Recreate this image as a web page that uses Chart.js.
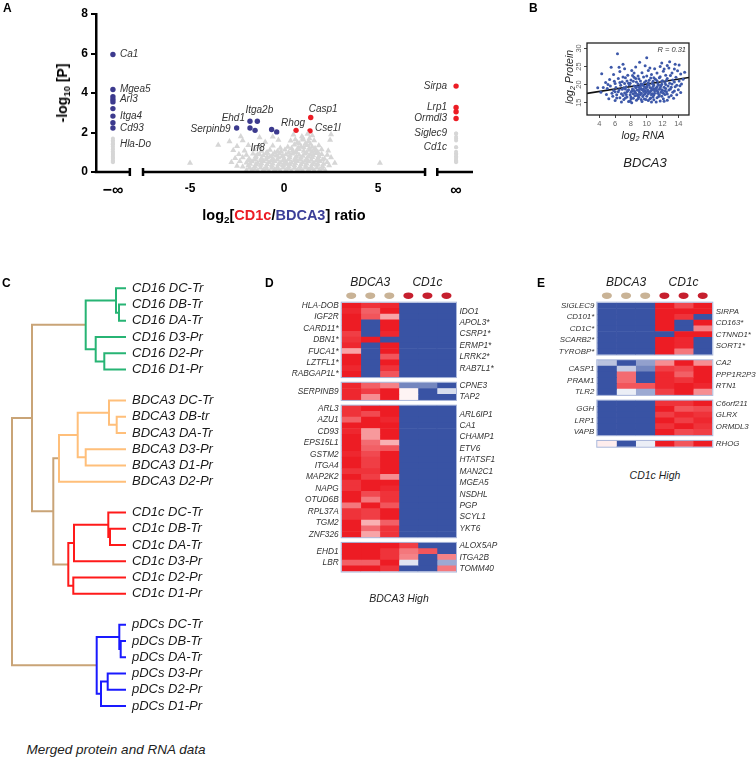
<!DOCTYPE html>
<html>
<head>
<meta charset="utf-8">
<title>DC subsets: proteome vs transcriptome</title>
<script src="https://cdn.jsdelivr.net/npm/chart.js@4.4.1/dist/chart.umd.min.js"></script>
<style>
  body { margin: 0; background: #fff; }
  #fig { position: relative; width: 756px; height: 758px; overflow: hidden;
         font-family: "Liberation Sans", Arial, Helvetica, sans-serif; color: #222; }
  canvas { position: absolute; }
  .t { position: absolute; white-space: nowrap; line-height: 1; transform: translate(-50%, -50%); }
  .panel { position: absolute; font-weight: bold; font-size: 12px; color: #000; line-height: 1; }
  sub { font-size: 68%; vertical-align: -0.3em; line-height: 0; }
</style>
</head>
<body>
<div id="fig">
  <canvas id="cA" width="480" height="230" style="left:0;top:0"></canvas>
  <canvas id="cB" width="160" height="140" style="left:540px;top:30px"></canvas>
  <canvas id="cC" width="270" height="450" style="left:0;top:270px"></canvas>
  <canvas id="cD" width="280" height="305" style="left:240px;top:275px"></canvas>
  <canvas id="cE" width="236" height="180" style="left:520px;top:275px"></canvas>

  <div class="panel" style="left:3px;top:2px">A</div>
  <div class="panel" style="left:529px;top:2px">B</div>
  <div class="panel" style="left:2px;top:277px">C</div>
  <div class="panel" style="left:265px;top:277px">D</div>
  <div class="panel" style="left:537px;top:277px">E</div>

  <div class="t" style="left:62px;top:93px;transform:translate(-50%,-50%) rotate(-90deg);font-weight:bold;font-size:14px;color:#000">-log<sub>10</sub> [P]</div>
  <div class="t" style="left:284px;top:215px;font-weight:bold;font-size:14.5px;color:#000">log<sub>2</sub>[<span style="color:#ec1c24">CD1c</span>/<span style="color:#3b3f98">BDCA3</span>] ratio</div>

  <div class="t" style="left:569px;top:77px;transform:translate(-50%,-50%) rotate(-90deg);font-style:italic;font-size:10.5px">log<sub>2</sub> Protein</div>
  <div class="t" style="left:643px;top:135px;font-style:italic;font-size:10.5px">log<sub>2</sub> RNA</div>
  <div class="t" style="left:645px;top:162px;font-style:italic;font-size:13px">BDCA3</div>

  <div class="t" style="left:116px;top:750px;font-style:italic;font-size:13.5px">Merged protein and RNA data</div>
  <div class="t" style="left:399px;top:598px;font-style:italic;font-size:10.5px">BDCA3 High</div>
  <div class="t" style="left:655px;top:475px;font-style:italic;font-size:10.5px">CD1c High</div>
</div>

<script>
// ---------- A: volcano (ratio of -Infinity / Infinity = only seen in one subset)
const blueNegInf = [['Ca1', 5.95], ['Mgea5', 4.18], ['', 3.81], ['Arl3', 3.67], ['', 3.55],
  ['', 3.21], ['Itga4', 2.83], ['', 2.49], ['Cd93', 2.23]];
const blueRatio = [['Serpinb9', -2.52, 2.23], ['Ehd1', -1.81, 2.57], ['Itga2b', -1.42, 2.57],
  ['', -1.81, 2.23], ['', -1.54, 2.11], ['', -0.66, 2.15], ['', -0.39, 2.03]];
const redRatio = [['Rhog', 0.64, 2.11], ['Casp1', 1.42, 2.76], ['Cse1l', 1.38, 2.08]];
const redPosInf = [['Sirpa', 4.35], ['Lrp1', 3.27], ['', 3.05], ['Ormdl3', 2.71]];
const grayNegInf = [1.7, 1.61, 1.55, 1.46, 1.4, 1.31, 1.22, 1.15, 1.05, 0.98, 0.91, 0.86, 0.79, 0.72, 0.67, 0.6, 0.55, 0.49];
const grayPosInf = [1.95, 1.78, 1.7, 1.6, 1.25, 1.02, 0.95, 0.88, 0.8, 0.74, 0.66, 0.6, 0.54, 0.49];
const grayNamed = [['Hla-Do', -Infinity, 1.4], ['Siglec9', Infinity, 1.95], ['Cd1c', Infinity, 1.25]];
const grayCloud = [
  [-2.0,0.08],[-1.7,0.12],[-1.4,0.05],[-1.1,0.1],[-0.8,0.04],[-0.5,0.11],[-0.2,0.06],[0.1,0.1],[0.4,0.03],[0.7,0.09],
  [1.0,0.05],[1.3,0.12],[1.6,0.07],[1.9,0.1],[2.2,0.06],[-2.5,0.3],[-2.2,0.26],[-1.9,0.33],[-1.55,0.28],[-1.25,0.35],
  [-0.95,0.27],[-0.65,0.32],[-0.35,0.25],[-0.05,0.34],[0.25,0.28],[0.55,0.33],[0.85,0.26],[1.15,0.31],[1.45,0.27],[1.75,0.35],
  [2.05,0.29],[2.4,0.33],[-5.0,0.45],[5.1,0.45],[-2.8,0.5],[-2.35,0.55],[-2.0,0.47],[-1.7,0.53],[-1.4,0.46],[-1.1,0.55],
  [-0.8,0.49],[-0.5,0.54],[-0.2,0.45],[0.1,0.52],[0.4,0.47],[0.7,0.55],[1.0,0.48],[1.3,0.53],[1.6,0.46],[1.9,0.54],
  [2.3,0.49],[2.7,0.45],[-2.6,0.7],[-2.2,0.74],[-1.85,0.66],[-1.5,0.72],[-1.2,0.68],[-0.9,0.75],[-0.6,0.67],[-0.3,0.73],
  [0.0,0.66],[0.3,0.74],[0.6,0.69],[0.9,0.72],[1.2,0.66],[1.5,0.75],[1.8,0.7],[2.15,0.67],[2.5,0.73],[-2.4,0.9],
  [-2.0,0.86],[-1.65,0.93],[-1.3,0.88],[-0.95,0.95],[-0.6,0.87],[-0.25,0.94],[0.1,0.89],[0.45,0.93],[0.8,0.86],[1.1,0.92],
  [1.4,0.88],[1.7,0.95],[2.0,0.9],[2.3,0.86],[-2.7,1.1],[-2.1,1.08],[-1.6,1.14],[-1.2,1.06],[-0.75,1.12],[-0.35,1.05],
  [0.05,1.13],[0.45,1.07],[0.8,1.15],[1.05,1.06],[1.35,1.11],[1.65,1.08],[2.0,1.14],[2.35,1.07],[-3.5,1.37],[-2.5,1.3],
  [-1.9,1.35],[-1.35,1.28],[-0.6,1.33],[0.2,1.27],[0.55,1.38],[0.9,1.3],[1.2,1.36],[1.5,1.27],[1.85,1.34],[-2.9,1.55],
  [-2.2,1.6],[-1.0,1.52],[-0.3,1.62],[0.35,1.58],[0.7,1.5],[1.0,1.63],[1.3,1.55],[1.6,1.6],[2.45,1.62],[-2.3,1.8],
  [-0.6,1.78],[0.5,1.88],[0.95,1.8],[1.25,1.92],[1.5,1.85],[2.5,1.9],[-1.3,1.75],[0.15,0.42],[-0.1,0.8],[0.6,1.0],
  [-1.85,0.2],[-1.55,0.15],[-1.25,0.22],[-0.95,0.17],[-0.65,0.2],[-0.35,0.16],[-0.05,0.21],[0.25,0.17],[0.55,0.2],[0.85,0.15],
  [1.15,0.21],[1.45,0.18],[1.75,0.22],[2.05,0.17],[-1.8,0.41],[-1.5,0.38],[-1.2,0.43],[-0.9,0.39],[-0.6,0.42],[-0.3,0.38],
  [0.0,0.41],[0.3,0.39],[0.6,0.43],[0.9,0.38],[1.2,0.42],[1.5,0.39],[1.8,0.41],[2.1,0.4],[-1.9,0.6],[-1.55,0.62],
  [-1.25,0.58],[-0.95,0.63],[-0.65,0.59],[-0.35,0.62],[-0.05,0.58],[0.25,0.63],[0.55,0.6],[0.85,0.62],[1.15,0.58],[1.45,0.61],
  [1.75,0.59],[2.05,0.62],[-1.5,0.8],[-1.1,0.83],[-0.75,0.78],[-0.4,0.82],[-0.05,0.79],[0.3,0.83],[0.65,0.78],[1.0,0.81],
  [1.3,0.79],[1.55,0.84],[1.85,0.8],[-0.9,1.0],[-0.5,0.98],[-0.15,1.02],[0.25,0.99],[0.65,1.02],[1.2,0.98],[1.5,1.01],
  [1.8,1.0],[-0.2,1.22],[0.4,1.2],[0.75,1.23],[1.05,1.24],[1.35,1.22],[1.65,1.2],[0.8,1.45],[1.15,1.45],[1.4,1.42],
  [1.0,1.72],[1.35,1.7],[0.6,1.65]
];
const grayCloudNamed = [['Irf8', -1.4, 0.9]];

// ---------- B: BDCA3 protein vs RNA
const bdca3Pts = [
  [6.3,28.5],[10.0,27.4],[12.9,26.3],[4.3,23.0],[5.5,24.8],[5.8,22.8],[6.6,23.6],[7.2,24.4],[7.6,22.6],[8.1,23.9],
  [8.6,24.9],[8.9,22.4],[9.4,23.3],[9.8,25.2],[10.2,23.9],[10.6,22.8],[11.0,24.4],[11.3,23.2],[11.7,25.0],[12.1,23.7],
  [12.4,22.6],[12.8,24.6],[13.2,23.2],[13.6,25.6],[13.9,23.8],[14.3,22.9],[14.8,23.4],[11.9,26.0],[9.1,26.2],[7.0,25.6],
  [12.6,25.3],[4.8,20.6],[5.3,21.4],[6.0,20.3],[6.4,21.7],[6.9,20.8],[7.3,21.9],[7.7,20.4],[8.0,21.3],[8.4,22.0],
  [8.7,20.7],[9.0,21.6],[9.3,20.2],[9.6,22.1],[9.9,21.0],[10.2,20.5],[10.5,21.8],[10.8,20.9],[11.1,21.5],[11.4,20.3],
  [11.7,22.2],[12.0,21.1],[12.3,20.6],[12.6,21.7],[12.9,20.4],[13.3,21.3],[13.7,22.0],[14.1,21.0],[14.4,20.2],[13.0,22.5],
  [11.6,21.9],[10.0,22.4],[8.2,22.5],[7.0,22.1],[5.0,18.9],[5.4,19.6],[5.8,18.4],[6.1,19.2],[6.4,18.0],[6.7,19.8],
  [6.9,18.7],[7.2,17.7],[7.4,19.4],[7.6,18.3],[7.8,19.9],[8.0,17.9],[8.2,18.8],[8.4,19.6],[8.6,17.6],[8.8,18.5],
  [9.0,19.3],[9.1,17.9],[9.3,18.9],[9.5,19.8],[9.6,18.1],[9.8,17.5],[9.9,19.1],[10.1,18.6],[10.3,19.9],[10.4,17.8],
  [10.6,18.9],[10.8,19.5],[11.0,18.2],[11.2,19.0],[11.4,17.6],[11.6,18.7],[11.8,19.7],[12.0,18.4],[12.2,19.3],[12.5,18.0],
  [12.7,19.6],[13.0,18.8],[13.3,17.9],[13.6,19.4],[14.0,18.6],[4.5,19.2],[3.8,19.1],[5.6,17.6],[6.2,17.2],[7.0,17.0],
  [8.5,16.9],[9.2,17.2],[10.0,16.8],[10.9,17.1],[11.5,16.7],[12.3,17.3],[13.1,17.0],[7.9,20.4],[8.9,20.2],[10.7,20.3],
  [11.9,20.1],[5.2,16.1],[6.0,15.6],[6.6,16.4],[7.1,15.9],[7.5,16.6],[7.9,15.4],[8.3,16.2],[8.7,15.7],[9.0,16.5],
  [9.4,15.3],[9.7,16.0],[10.2,15.6],[10.5,16.3],[10.9,15.8],[11.3,16.4],[11.7,15.5],[12.1,16.1],[12.6,15.7],[13.4,16.2],
  [6.8,15.2],[8.1,15.0],[4.9,17.3],[5.7,16.8],[13.8,17.2],[14.3,17.8],[4.2,17.9],[8.1,18.2],[8.5,18.0],[9.0,18.4],
  [9.4,18.6],[9.7,19.5],[10.2,17.4],[10.5,18.3],[10.9,18.7],[11.3,18.4],[9.6,17.2],[8.9,17.3],[10.7,17.5],[11.8,17.9],
  [7.5,18.0],[7.3,18.8],[12.4,18.9],[9.2,19.6],[10.0,19.4],[11.5,19.9],[8.6,19.1],[9.5,16.7],[10.4,16.1],[8.0,16.6],
  [6.5,18.6],[6.8,17.5],[7.1,19.1],[7.4,17.3],[7.7,18.6],[7.9,17.2],[8.3,17.5],[8.4,18.4],[8.7,19.5],[8.8,17.0],
  [9.1,18.7],[9.3,17.6],[9.4,20.1],[9.6,18.8],[9.8,18.4],[9.9,17.9],[10.1,19.8],[10.2,18.1],[10.4,19.2],[10.6,17.2],
  [10.7,18.5],[10.9,19.9],[11.0,17.6],[11.1,18.9],[11.3,19.4],[11.4,18.0],[11.6,17.2],[11.7,19.2],[11.9,18.6],[12.1,17.6],
  [12.3,18.2],[12.4,20.0],[12.6,17.4],[12.8,18.5],[13.1,19.3],[13.2,20.2],[13.5,18.2],[13.8,19.8],[6.0,18.0],[5.9,20.9],
  [6.6,20.6],[7.2,20.3],[7.5,21.0],[8.3,20.9],[8.6,21.7],[9.2,21.0],[9.7,20.6],[10.3,21.2],[10.9,21.9],[11.3,21.1],
  [11.9,20.9],[12.5,21.2],[13.5,20.7],[14.2,19.7],[14.6,21.5],[5.1,20.0],[6.2,16.3],[7.3,16.3],[8.0,16.0],[8.9,16.1],
  [9.9,15.9],[10.8,16.6],[11.9,16.8],[12.8,16.6],[9.3,15.9],[10.6,15.2],[7.7,15.3],[11.2,15.2],[12.2,15.4],[6.5,24.8],
  [8.4,23.2],[10.4,24.6],[12.2,24.3],[13.5,24.3],[14.1,25.4]
];
const fitIntercept = 16.75, fitSlope = 0.34, fitR = 0.31;

// ---------- C: hierarchical clustering
const leafNames = ['CD16 DC-Tr', 'CD16 DB-Tr', 'CD16 DA-Tr', 'CD16 D3-Pr', 'CD16 D2-Pr', 'CD16 D1-Pr',
  'BDCA3 DC-Tr', 'BDCA3 DB-tr', 'BDCA3 DA-Tr', 'BDCA3 D3-Pr', 'BDCA3 D1-Pr', 'BDCA3 D2-Pr',
  'CD1c DC-Tr', 'CD1c DB-Tr', 'CD1c DA-Tr', 'CD1c D3-Pr', 'CD1c D2-Pr', 'CD1c D1-Pr',
  'pDCs DC-Tr', 'pDCs DB-Tr', 'pDCs DA-Tr', 'pDCs D3-Pr', 'pDCs D2-Pr', 'pDCs D1-Pr'];
const leafGroup = [0,0,0,0,0,0, 1,1,1,1,1,1, 2,2,2,2,2,2, 3,3,3,3,3,3];
// merges: [a, b, height, cluster]; negative = leaf, positive = earlier merge (R hclust style)
const merges = [
  [-2, -3, 7, 0], [-1, 1, 10, 0], [-5, -6, 21.7, 0], [-4, 3, 30.3, 0], [2, 4, 40.3, 0],
  [-8, -9, 9.3, 1], [-7, 6, 17, 1], [-10, -11, 40.3, 1], [7, 8, 48.3, 1], [9, -12, 67, 1],
  [-14, -15, 16, 2], [-13, 11, 17.7, 2], [12, -16, 52, 2], [-17, -18, 52.7, 2], [13, 14, 57.7, 2],
  [-20, -21, 5.3, 3], [-19, 16, 6.7, 3], [-22, -23, 18.3, 3], [18, -24, 25, 3], [17, 19, 29.3, 3],
  [10, 15, 72.7, 4], [5, 21, 94, 4], [22, 20, 114, 4]
];
const clusterColors = ['#27b474', '#ffbf7a', '#ff1a1a', '#1a1aff', '#c9a477'];

// ---------- D / E heatmaps (scaled abundance, -1 blue .. 1 red)
const hmGroups = ['BDCA3', 'BDCA3', 'BDCA3', 'CD1c', 'CD1c', 'CD1c'];
const dGenes1 = ['HLA-DOB', 'IDO1', 'IGF2R', 'APOL3*', 'CARD11*', 'CSRP1*', 'DBN1*', 'ERMP1*', 'FUCA1*', 'LRRK2*', 'LZTFL1*', 'RAB7L1*', 'RABGAP1L*'];
const dVals1 = [[1,.9,.95,-1,-1,-1],[.95,.7,1,-1,-1,-1],[1,.75,.4,-1,-1,-1],[1,-1,1,-1,-1,-1],[1,-1,1,-1,-1,-1],
  [.85,-1,.95,-1,-1,-1],[.9,1,-1,-1,-1,-1],[.95,-1,1,-1,-1,-1],[.4,-1,1,-1,-1,-1],[1,-1,.75,-1,-1,-1],
  [1,-1,1,-1,-1,-1],[.95,-1,.9,-1,-1,-1],[1,-1,.75,-1,-1,-1]];
const dGenes2 = ['CPNE3', 'SERPINB9', 'TAP2'];
const dVals2 = [[.95,.7,.55,-.7,-.7,-1],[.95,.85,1,.05,-1,-.2],[.95,.5,1,.05,-1,-1]];
const dGenes3 = ['ARL3', 'ARL6IP1', 'AZU1', 'CA1', 'CD93', 'CHAMP1', 'EPS15L1', 'ETV6', 'GSTM2', 'HTATSF1', 'ITGA4', 'MAN2C1',
  'MAP2K2', 'MGEA5', 'NAPG', 'NSDHL', 'OTUD6B', 'PGP', 'RPL37A', 'SCYL1', 'TGM2', 'YKT6', 'ZNF326'];
const dVals3 = [[.9,1,1,-1,-1,-1],[.9,.8,1,-1,-1,-1],[.7,1,.95,-1,-1,-1],[1,1,1,-1,-1,-1],[.95,.45,1,-1,-1,-1],
  [1,.45,1,-1,-1,-1],[1,.65,.35,-1,-1,-1],[1,.7,.75,-1,-1,-1],[.95,.8,1,-1,-1,-1],[1,.85,1,-1,-1,-1],
  [1,.85,1,-1,-1,-1],[.9,.9,1,-1,-1,-1],[1,.85,.5,-1,-1,-1],[.9,1,1,-1,-1,-1],[.9,1,.95,-1,-1,-1],
  [1,.8,.9,-1,-1,-1],[1,.6,.9,-1,-1,-1],[.6,1,.75,-1,-1,-1],[.9,.85,1,-1,-1,-1],[.9,.85,1,-1,-1,-1],
  [1,.35,.7,-1,-1,-1],[1,.65,.9,-1,-1,-1],[1,.4,.9,-1,-1,-1]];
const dGenes4 = ['ALOX5AP', 'EHD1', 'ITGA2B', 'LBR', 'TOMM40'];
const dVals4 = [[1,1,1,.85,-1,-1],[1,1,.9,.6,.75,-1],[1,1,.9,.55,-1,.55],[.7,.7,1,-.15,-1,-.5],[1,1,.9,-1,-1,.6]];

const eGenes1 = ['SIGLEC9', 'SIRPA', 'CD101*', 'CD163*', 'CD1C*', 'CTNND1*', 'SCARB2*', 'SORT1*', 'TYROBP*'];
const eVals1 = [[-1,-1,-1,1,.8,1],[-1,-1,-1,1,1,1],[-1,-1,-1,1,.9,-1],[-1,-1,-1,1,-1,1],[-1,-1,-1,1,-1,.55],
  [-1,-1,-1,-1,1,1],[-1,-1,-1,1,.95,-1],[-1,-1,-1,1,.95,-1],[-1,-1,-1,1,.6,-1]];
const eGenes2 = ['CA2', 'CASP1', 'PPP1R2P3', 'PRAM1', 'RTN1', 'TLR2'];
const eVals2 = [[-.35,-1,-.55,.5,1,.5],[-1,-.3,-.7,.85,.8,1],[-1,.65,-1,.95,.7,1],[-1,.65,-1,.95,.9,1],
  [-1,.75,.75,.95,1,.95],[-1,-.1,-.5,.85,1,.5]];
const eGenes3 = ['C6orf211', 'GGH', 'GLRX', 'LRP1', 'ORMDL3', 'VAPB'];
const eVals3 = [[-1,-1,-1,.9,.9,1],[-1,-1,-1,1,.75,.8],[-1,-1,-1,.85,.95,.9],[-1,-1,-1,1,.85,.95],
  [-1,-1,-1,.9,1,.9],[-1,-1,-1,1,.8,.85]];
const eGenes4 = ['RHOG'];
const eVals4 = [[.08,-1,-.1,1,.75,1]];

Chart.defaults.font.family = '"Liberation Sans", Arial, Helvetica, sans-serif';
Chart.defaults.animation = false;
Chart.defaults.plugins.legend.display = false;
Chart.defaults.plugins.tooltip.enabled = false;

// ================= A
const NEG_INF = -9.1, POS_INF = 9.15;
const infX = v => v === -Infinity ? NEG_INF : v === Infinity ? POS_INF : v;
const LBL = {
  Ca1: [7, 0, 'left'], Mgea5: [7, 0, 'left'], Arl3: [7, 0, 'left'], Itga4: [7, 0, 'left'], Cd93: [7, 0, 'left'],
  'Hla-Do': [7, 0, 'left'], Serpinb9: [-6, 1, 'right'], Ehd1: [-5, -3, 'right'], Itga2b: [2, -11, 'center'],
  Irf8: [0, -6, 'center'], Rhog: [-3, -7, 'center'], Casp1: [-2, -8, 'left'], Cse1l: [5, -3, 'left'],
  Sirpa: [-9, 0, 'right'], Lrp1: [-9, 0, 'right'], Ormdl3: [-9, 0, 'right'], Siglec9: [-9, 0, 'right'], Cd1c: [-9, 0, 'right']
};

const brokenAxis = {
  id: 'brokenAxis',
  afterDraw(chart) {
    const { ctx } = chart, xs = chart.scales.x;
    const y0 = chart.scales.y.getPixelForValue(0);
    ctx.save();
    ctx.strokeStyle = '#000';
    ctx.lineWidth = 2.5;
    [[-10, -8.2], [-7.5, 7.5], [8.15, 10.05]].forEach(([a, b], i) => {
      ctx.beginPath();
      ctx.moveTo(xs.getPixelForValue(a) - (i === 0 ? 1.25 : 0), y0);
      ctx.lineTo(xs.getPixelForValue(b), y0);
      ctx.stroke();
    });
    [-8.2, -7.5, 7.5, 8.15].forEach(v => {
      const px = xs.getPixelForValue(v);
      ctx.beginPath();
      ctx.moveTo(px, y0 - 4);
      ctx.lineTo(px, y0 + 4);
      ctx.stroke();
    });
    ctx.restore();
  }
};

const pointLabels = {
  id: 'pointLabels',
  afterDatasetsDraw(chart) {
    const { ctx } = chart;
    ctx.save();
    ctx.font = 'italic 10px "Liberation Sans", Arial, sans-serif';
    ctx.fillStyle = '#333';
    ctx.textBaseline = 'middle';
    chart.data.datasets.forEach((ds, di) => {
      const meta = chart.getDatasetMeta(di);
      ds.data.forEach((p, i) => {
        if (!p.g || !LBL[p.g]) return;
        const [dx, dy, al] = LBL[p.g];
        const el = meta.data[i];
        ctx.textAlign = al;
        ctx.fillText(p.g, el.x + dx, el.y + dy);
      });
    });
    ctx.restore();
  }
};

new Chart(document.getElementById('cA'), {
  type: 'scatter',
  data: {
    datasets: [
      { data: grayCloud.map(([x, y]) => ({ x, y })).concat(grayCloudNamed.map(([g, x, y]) => ({ x, y, g }))),
        pointStyle: 'triangle', pointRadius: 3.5, backgroundColor: '#d6d6d6', borderWidth: 0 },
      { data: grayNegInf.map(y => ({ x: NEG_INF, y })).concat(grayPosInf.map(y => ({ x: POS_INF, y })),
          grayNamed.map(([g, x, y]) => ({ x: infX(x), y, g }))),
        pointRadius: 2, backgroundColor: '#d6d6d6', borderWidth: 0 },
      { data: blueNegInf.map(([g, y]) => ({ x: NEG_INF, y, g })).concat(blueRatio.map(([g, x, y]) => ({ x, y, g }))),
        pointRadius: 2.7, backgroundColor: '#3c3a8e', borderWidth: 0 },
      { data: redPosInf.map(([g, y]) => ({ x: POS_INF, y, g })).concat(redRatio.map(([g, x, y]) => ({ x, y, g }))),
        pointRadius: 2.7, backgroundColor: '#ec1c24', borderWidth: 0 }
    ]
  },
  options: {
    responsive: false,
    layout: { padding: { top: 14, right: 7, left: 0, bottom: 0 } },
    scales: {
      x: {
        type: 'linear', min: -10, max: 10.05,
        afterBuildTicks: s => { s.ticks = [NEG_INF, -5, 0, 5, POS_INF].map(v => ({ value: v })); },
        afterFit: s => { s.height = 58; },
        grid: { display: false, drawTicks: false }, border: { display: false },
        ticks: {
          padding: 9, color: '#000',
          font: c => ({ weight: 'bold', size: c.tick && Math.abs(c.tick.value) > 8 ? 16 : 12 }),
          callback: v => v === NEG_INF ? '\u2212\u221e' : v === POS_INF ? '\u221e' : String(v)
        }
      },
      y: {
        min: 0, max: 8,
        afterFit: s => { s.width = 96; },
        ticks: { stepSize: 2, padding: 3, color: '#000', font: { weight: 'bold', size: 12 } },
        grid: { drawOnChartArea: false, tickLength: 5, color: '#000', lineWidth: 2 },
        border: { color: '#000', width: 2.5 }
      }
    }
  },
  plugins: [brokenAxis, pointLabels]
});

// ================= B
const boxAndLabels = {
  id: 'boxAndLabels',
  afterDraw(chart) {
    const { ctx, chartArea: ca } = chart, ys = chart.scales.y;
    ctx.save();
    ctx.strokeStyle = '#222';
    ctx.lineWidth = 1.3;
    ctx.strokeRect(ca.left, ca.top, ca.right - ca.left, ca.bottom - ca.top);
    ctx.fillStyle = '#666';
    ctx.font = '7.5px "Liberation Sans", Arial, sans-serif';
    ctx.textAlign = 'center';
    ctx.textBaseline = 'bottom';
    ys.ticks.forEach(t => {
      ctx.save();
      ctx.translate(ca.left - 4, ys.getPixelForValue(t.value));
      ctx.rotate(-Math.PI / 2);
      ctx.fillText(String(t.value), 0, 0);
      ctx.restore();
    });
    ctx.fillStyle = '#333';
    ctx.font = 'italic 7.5px "Liberation Sans", Arial, sans-serif';
    ctx.textAlign = 'right';
    ctx.textBaseline = 'top';
    ctx.fillText('R = ' + fitR.toFixed(2), ca.right - 3, ca.top + 3);
    ctx.restore();
  }
};

const bxMin = 2.44, bxMax = 15.35;
new Chart(document.getElementById('cB'), {
  type: 'scatter',
  data: {
    datasets: [
      { data: bdca3Pts.map(([x, y]) => ({ x, y })), pointRadius: 1.5, backgroundColor: '#3d58a9', borderWidth: 0 },
      { type: 'line', data: [bxMin, bxMax].map(x => ({ x, y: fitIntercept + fitSlope * x })),
        borderColor: '#111', borderWidth: 1.6, pointRadius: 0, clip: 0 }
    ]
  },
  options: {
    responsive: false,
    layout: { padding: { top: 13, right: 11, left: 0, bottom: 0 } },
    scales: {
      x: {
        type: 'linear', min: bxMin, max: bxMax,
        afterBuildTicks: s => { s.ticks = [4, 6, 8, 10, 12, 14].map(v => ({ value: v })); },
        afterFit: s => { s.height = 55; },
        grid: { drawOnChartArea: false, tickLength: 3, color: '#444' }, border: { display: false },
        ticks: { padding: 1, color: '#666', font: { size: 7.5 } }
      },
      y: {
        min: 11.6, max: 31.5,
        afterBuildTicks: s => { s.ticks = [15, 20, 25, 30].map(v => ({ value: v })); },
        afterFit: s => { s.width = 47; },
        grid: { drawOnChartArea: false, tickLength: 3, color: '#444' }, border: { display: false },
        ticks: { color: 'rgba(0,0,0,0)', font: { size: 7.5 } }
      }
    }
  },
  plugins: [boxAndLabels]
});

// ================= C
const leafU = leafNames.map((_, i) => i + 0.9 * leafGroup[i]);
const nodeY = [];
const nodePos = r => r < 0 ? { x: 0, y: leafU[-r - 1] } : { x: merges[r - 1][2], y: nodeY[r - 1] };
const dendroSets = merges.map((m, k) => {
  const a = nodePos(m[0]), b = nodePos(m[1]);
  nodeY[k] = (a.y + b.y) / 2;
  return {
    data: [{ x: a.x, y: a.y }, { x: m[2], y: a.y }, { x: m[2], y: b.y }, { x: b.x, y: b.y }],
    showLine: true, borderColor: clusterColors[m[3]], borderWidth: 2, pointRadius: 0, clip: false
  };
});
const leafLabel = new Map(leafU.map((u, i) => [u, leafNames[i]]));

new Chart(document.getElementById('cC'), {
  type: 'scatter',
  data: { datasets: dendroSets },
  options: {
    responsive: false,
    layout: { padding: { top: 18.3, bottom: 14, left: 12, right: 0 } },
    scales: {
      x: { type: 'linear', display: false, min: 0, max: 114, reverse: true },
      y: {
        type: 'linear', position: 'right', reverse: true, min: 0, max: leafU[leafU.length - 1],
        afterBuildTicks: s => { s.ticks = leafU.map(v => ({ value: v })); },
        afterFit: s => { s.width = 144; },
        grid: { display: false, drawTicks: false, tickLength: 0 }, border: { display: false },
        ticks: { autoSkip: false, padding: 6, color: '#1a1a1a', font: { style: 'italic', size: 13 },
                 callback: v => leafLabel.get(v) || '' }
      }
    }
  }
});

// ================= D / E
function heatColor(v) {
  const base = v > 0 ? [237, 28, 36] : [57, 83, 164];
  const t = Math.min(1, Math.abs(v));
  return 'rgb(' + base.map(c => Math.round(255 + (c - 255) * t)).join(',') + ')';
}

function heatmapChart(id, blocks, leftW, rightW, padTop, padBottom, fontSize) {
  const labels = [], side = [], spans = [];
  const cols = hmGroups.map(() => []);
  blocks.forEach((b, bi) => {
    if (bi) { labels.push(''); side.push(''); cols.forEach(c => c.push(null)); }
    const start = labels.length;
    b.genes.forEach((g, ri) => {
      labels.push(g);
      side.push((ri % 2 === 0) === b.startLeft ? 'L' : 'R');
      b.vals[ri].forEach((v, ci) => cols[ci].push(v));
    });
    spans.push([start, labels.length - 1]);
  });

  const decor = {
    id: 'decor',
    afterDraw(chart) {
      const { ctx, chartArea: ca } = chart, x = chart.scales.x, y = chart.scales.y;
      const rowH = Math.abs(y.getPixelForValue(1) - y.getPixelForValue(0));
      ctx.save();
      ctx.strokeStyle = 'rgba(160,174,214,0.9)';
      ctx.lineWidth = 1;
      spans.forEach(([a, b]) => {
        const top = y.getPixelForValue(a) - rowH / 2, bot = y.getPixelForValue(b) + rowH / 2;
        ctx.strokeRect(ca.left - 0.5, top - 0.5, ca.right - ca.left + 1, bot - top + 1);
      });
      hmGroups.forEach((g, i) => {
        ctx.fillStyle = g === 'BDCA3' ? '#c9b396' : '#c61f2e';
        ctx.beginPath();
        ctx.ellipse(x.getPixelForValue(i + 0.5), ca.top - 7, 5, 3.3, 0, 0, 2 * Math.PI);
        ctx.fill();
      });
      ctx.fillStyle = '#222';
      ctx.font = 'italic 12px "Liberation Sans", Arial, sans-serif';
      ctx.textAlign = 'center';
      ctx.textBaseline = 'middle';
      [...new Set(hmGroups)].forEach(g => {
        const idx = hmGroups.map((h, i) => h === g ? i : -1).filter(i => i >= 0);
        const mid = (idx[0] + idx[idx.length - 1] + 1) / 2;
        ctx.fillText(g, x.getPixelForValue(mid), ca.top - 20);
      });
      ctx.restore();
    }
  };

  const tickFont = { style: 'italic', size: fontSize };
  const noGrid = { display: false, drawTicks: false, tickLength: 0 };
  new Chart(document.getElementById(id), {
    type: 'bar',
    data: {
      labels,
      datasets: cols.map(c => ({
        data: c.map(v => v === null ? null : 1),
        backgroundColor: c.map(v => v === null ? 'rgba(0,0,0,0)' : heatColor(v)),
        borderWidth: 0, barPercentage: 1, categoryPercentage: 1
      }))
    },
    options: {
      responsive: false,
      indexAxis: 'y',
      layout: { padding: { top: padTop, bottom: padBottom, left: 0, right: 0 } },
      scales: {
        x: { stacked: true, display: false, min: 0, max: hmGroups.length },
        y: {
          stacked: true, offset: true, afterFit: s => { s.width = leftW; },
          grid: noGrid, border: { display: false },
          ticks: { autoSkip: false, padding: 3, color: '#333', font: tickFont,
                   callback: (v, i) => side[i] === 'L' ? labels[i] : '' }
        },
        y2: {
          type: 'category', axis: 'y', position: 'right', offset: true, afterFit: s => { s.width = rightW; },
          grid: noGrid, border: { display: false },
          ticks: { autoSkip: false, padding: 3.5, color: '#333', font: tickFont,
                   callback: (v, i) => side[i] === 'R' ? labels[i] : '' }
        }
      }
    },
    plugins: [decor]
  });
}

heatmapChart('cD', [
  { genes: dGenes1, vals: dVals1, startLeft: true },
  { genes: dGenes2, vals: dVals2, startLeft: false },
  { genes: dGenes3, vals: dVals3, startLeft: true },
  { genes: dGenes4, vals: dVals4, startLeft: false }
], 101.7, 64, 27.7, 6, 8.3);

heatmapChart('cE', [
  { genes: eGenes1, vals: eVals1, startLeft: true },
  { genes: eGenes2, vals: eVals2, startLeft: false },
  { genes: eGenes3, vals: eVals3, startLeft: false },
  { genes: eGenes4, vals: eVals4, startLeft: false }
], 77.3, 43.7, 27.7, 8.3, 7.9);
</script>
</body>
</html>
